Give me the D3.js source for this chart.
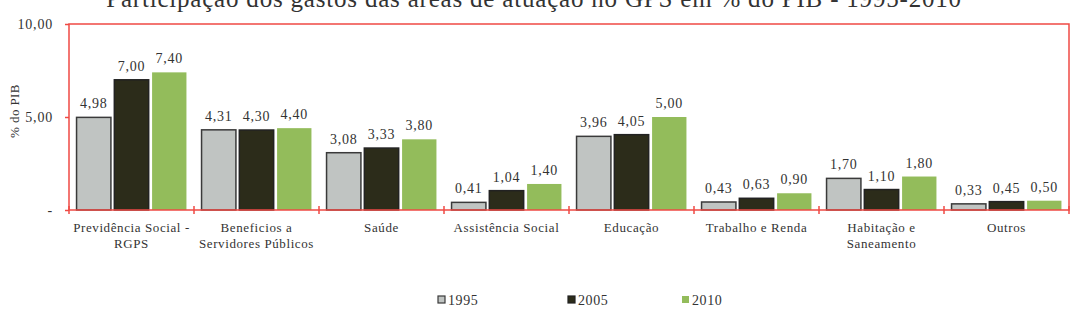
<!DOCTYPE html>
<html>
<head>
<meta charset="utf-8">
<script src="https://d3js.org/d3.v7.min.js"></script>
<style>
  body { margin: 0; background: #fff; }
  svg text { font-family: "Liberation Serif", "Times New Roman", serif; fill: #333; }
</style>
</head>
<body>
<div id="chart"></div>
<script>
main();

function main() {

    // data
    let categories = [
        ["Previdência Social -", "RGPS"],
        ["Beneficios a", "Servidores Públicos"],
        ["Saúde"],
        ["Assistência Social"],
        ["Educação"],
        ["Trabalho e Renda"],
        ["Habitação e", "Saneamento"],
        ["Outros"]
    ];
    let years = ["1995", "2005", "2010"];
    let values1995 = [4.98, 4.31, 3.08, 0.41, 3.96, 0.43, 1.70, 0.33];
    let values2005 = [7.00, 4.30, 3.33, 1.04, 4.05, 0.63, 1.10, 0.45];
    let values2010 = [7.40, 4.40, 3.80, 1.40, 5.00, 0.90, 1.80, 0.50];
    let yTicks = [0, 5, 10];

    let series = [values1995, values2005, values2010];
    let colors = ["#c0c4c2", "#2c2c1a", "#93bc5b"];
    let strokes = ["#3a3a3a", "#222", "none"];

    let width = 1078, height = 314;
    let left = 69, right = 1069, top = 24, bottom = 210;

    let svg = d3.select("#chart").append("svg")
        .attr("width", width)
        .attr("height", height);

    let x = d3.scaleBand()
        .domain(d3.range(categories.length))
        .range([left, right]);

    let x1 = d3.scaleBand()
        .domain(d3.range(years.length))
        .range([0, x.bandwidth()])
        .paddingInner(0.09)
        .paddingOuter(0.2);

    let y = d3.scaleLinear()
        .domain([0, 10])
        .range([bottom, top]);

    let fmt = (v) => d3.format(".2f")(v).replace(".", ",");

    // title (cut at top in the original)
    svg.append("text")
        .attr("x", 534)
        .attr("y", 7)
        .attr("text-anchor", "middle")
        .attr("font-size", 25)
        .style("letter-spacing", "0.8px")
        .text("Participação dos gastos das áreas de atuação no GPS em % do PIB - 1995-2010");

    // bars
    series.forEach((vals, s) => {
        svg.append("g").selectAll("rect")
            .data(vals)
            .enter()
            .append("rect")
            .attr("x", (d, i) => x(i) + x1(s))
            .attr("y", (d) => y(d))
            .attr("width", x1.bandwidth())
            .attr("height", (d) => y(0) - y(d))
            .style("fill", colors[s])
            .style("stroke", strokes[s])
            .style("stroke-width", 1.5);

        svg.append("g").selectAll("text")
            .data(vals)
            .enter()
            .append("text")
            .attr("x", (d, i) => x(i) + x1(s) + x1.bandwidth() / 2)
            .attr("y", (d) => y(d) - 9)
            .attr("text-anchor", "middle")
            .attr("font-size", 14)
            .style("letter-spacing", "0.8px")
            .text((d) => fmt(d));
    });

    // plot border
    svg.append("rect")
        .attr("x", left)
        .attr("y", top)
        .attr("width", right - left)
        .attr("height", bottom - top)
        .style("fill", "none")
        .style("stroke", "#ef4a44")
        .style("stroke-width", 1.5);

    // y axis
    let yAxis = svg.append("g")
        .attr("transform", "translate(" + left + ",0)")
        .call(d3.axisLeft(y).tickValues(yTicks).tickSize(4)
            .tickFormat((d) => d === 0 ? "-" : fmt(d)));
    yAxis.select(".domain").remove();
    yAxis.selectAll("line").style("stroke", "#ef4a44").style("stroke-width", 1.5);
    yAxis.selectAll("text")
        .attr("x", -16)
        .attr("font-size", 14)
        .style("letter-spacing", "0.8px")
        .style("fill", "#333");

    // x axis ticks at category boundaries
    let bounds = d3.range(categories.length + 1).map((i) => left + i * x.step());
    svg.append("g").selectAll("line")
        .data(bounds)
        .enter()
        .append("line")
        .attr("x1", (d) => d)
        .attr("x2", (d) => d)
        .attr("y1", bottom - 4)
        .attr("y2", bottom + 4)
        .style("stroke", "#ef4a44")
        .style("stroke-width", 1.5);

    // category labels
    let catG = svg.append("g").selectAll("text")
        .data(categories)
        .enter()
        .append("text")
        .attr("x", (d, i) => x(i) + x.bandwidth() / 2)
        .attr("y", 232)
        .attr("text-anchor", "middle")
        .attr("font-size", 13)
        .style("letter-spacing", "0.6px");
    catG.selectAll("tspan")
        .data((d) => d)
        .enter()
        .append("tspan")
        .attr("x", function () { return d3.select(this.parentNode).attr("x"); })
        .attr("dy", (d, i) => i === 0 ? 0 : 16)
        .text((d) => d);

    // y label
    svg.append("text")
        .attr("transform", "translate(19,111) rotate(-90)")
        .attr("text-anchor", "middle")
        .attr("font-size", 13)
        .style("letter-spacing", "0.4px")
        .text("% do PIB");

    // legend
    let legendX = [438, 568, 682];
    let legend = svg.append("g").selectAll("g")
        .data(years)
        .enter()
        .append("g")
        .attr("transform", (d, i) => "translate(" + legendX[i] + ",296)");
    legend.append("rect")
        .attr("x", 0)
        .attr("y", 0)
        .attr("width", 7)
        .attr("height", 7)
        .style("fill", (d, i) => colors[i])
        .style("stroke", (d, i) => strokes[i])
        .style("stroke-width", 1.2);
    legend.append("text")
        .attr("x", 10)
        .attr("y", 8.5)
        .attr("font-size", 14)
        .style("letter-spacing", "0.6px")
        .text((d) => d);
}
</script>
</body>
</html>
